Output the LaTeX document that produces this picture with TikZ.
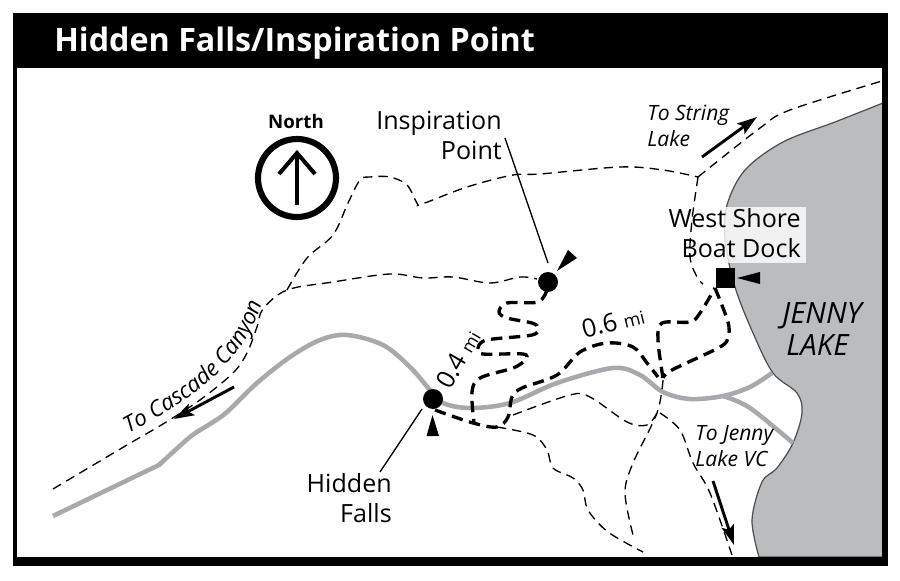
\documentclass[tikz,border=0pt]{standalone}
\usepackage{fontspec}
\setmainfont{Open Sans}
\usetikzlibrary{arrows.meta,decorations.text}
\definecolor{lakegray}{HTML}{BBBCBE}
\definecolor{roadgray}{HTML}{A7A9AC}
\tikzset{
 trail/.style={line width=1pt,dash pattern=on 7pt off 4.5pt,smooth,tension=0.55},
 boldtrail/.style={line width=2.5pt,dash pattern=on 8.5pt off 5pt,line cap=butt},
 road/.style={draw=roadgray,line width=3.4pt,line join=round},
 leader/.style={line width=1pt},
 pointer/.style={fill=black,draw=none},
 dirarrow/.style={line width=2.2pt,-{Stealth[length=15pt,width=9.5pt,inset=3pt]}},
 lbl/.style={font=\fontsize{18.8}{22.5}\selectfont,align=right,inner sep=0pt},
 ital/.style={font=\fontsize{15.8}{19.5}\selectfont\itshape,inner sep=0pt},
 lakelbl/.style={font=\fontsize{22}{24}\selectfont\itshape,inner sep=0pt},
}
\begin{document}
\begin{tikzpicture}[x=0.75pt,y=-0.75pt]
\useasboundingbox (0,0) rectangle (900,581);
\fill[white] (0,0) rectangle (900,581);
% lake
\draw[fill=lakegray,draw=black!70,line width=0.9pt] plot[smooth,tension=0.55] coordinates {(883,103) (835,122) (783,142) (745,170) (727,205) (725,240) (735,287) (753,333) (773,373) (797,393) (802,413) (793,443) (777,468) (762,482) (752,520) (759,557)} -- (883,557) -- cycle;
% roads
\draw[road] (53,516) -- (159,465) -- plot[smooth,tension=0.55] coordinates {(159,465) (190,437) (210,424) (227,412) (257,383) (290,357) (320,340) (347,335) (383,345) (410,367) (430,390) (443,403) (470,408) (510,403) (557,383) (613,368) (640,375) (663,392) (690,399) (723,396) (750,387) (772,373)};
\draw[road] plot[smooth,tension=0.55] coordinates {(723,396) (750,408) (793,443)};
% label panel
\node[fill=white,fill opacity=0.8,text opacity=1,minimum width=108pt,minimum height=42pt,inner sep=0pt,anchor=north west] (dockpanel) at (662,207) {};
% thin trails
\draw[trail] plot coordinates {(53,489) (127,445) (163,424) (200,400) (233,373) (247,353) (257,327) (263,309) (287,290) (333,282) (390,274) (423,278) (453,277) (490,283) (520,277) (537,279)};
\draw[trail] plot coordinates {(287,290) (307,258) (333,235) (348,203) (360,180) (370,177) (390,177) (407,185) (417,203) (422,204) (467,187) (513,175) (540,174) (620,167) (663,170) (698,177)};
\draw[trail] plot coordinates {(698,177) (760,128) (790,110) (882,81)};
\draw[trail] plot coordinates {(698,177) (692,220) (690,257) (697,277) (703,284)};
\draw[trail] plot coordinates {(513,415) (570,395) (590,397) (627,422) (647,425) (657,413)};
\draw[trail] plot coordinates {(663,380) (657,413) (633,463) (625,493) (633,535)};
\draw[trail] plot coordinates {(497,427) (533,435) (547,450) (553,468) (573,478) (583,490) (588,510) (608,532) (643,552)};
\draw[trail] plot coordinates {(660,413) (680,430) (693,463) (710,493) (732,555)};
% bold trails
\draw[boldtrail] plot[smooth,tension=0.55] coordinates {(547,290) (538,302) (507,303) (499,312) (507,318) (532,323) (538,328) (532,335) (487,340) (478,348) (483,354) (523,354) (525,360) (513,368) (480,378) (472,392) (474,423)};
\draw[boldtrail] plot[smooth,tension=0.55] coordinates {(435,410) (473,423) (497,427) (508,417) (512,397) (522,388) (557,375) (580,352) (607,343) (633,347) (647,363) (658,377)};
\draw[boldtrail] plot[smooth,tension=0.55] coordinates {(663,378) (658,340) (662,323) (690,322) (700,313) (715,288)};
\draw[boldtrail] plot[smooth,tension=0.55] coordinates {(715,288) (728,322) (728,337) (720,347) (672,370) (663,378)};
% markers
\node[circle,fill=black,minimum size=15pt,inner sep=0pt] (insp) at (548,282) {};
\node[circle,fill=black,minimum size=15pt,inner sep=0pt] (falls) at (433,399) {};
\node[rectangle,fill=black,minimum size=14.5pt,inner sep=0pt] (dock) at (725.5,278) {};
\fill[pointer] (737,278) -- (760,272) -- (760,284) -- cycle;
\fill[pointer] (432.5,415) -- (426.5,436) -- (439,436) -- cycle;
\fill[pointer] (557,271) -- (568,250) -- (577,258) -- cycle;
% labels
\node[lbl,anchor=north east] (insplbl) at (502,111) {Inspiration\\Point};
\node[lbl,anchor=north east] (fallslbl) at (392,473) {Hidden\\Falls};
\node[lbl,anchor=north east] (docklbl) at (801,208) {West Shore\\Boat Dock};
\coordinate (insptop) at (505,138);
\coordinate (inspend) at (548,263);
\coordinate (fallstop) at (422,409);
\coordinate (fallsend) at (380,472);
\draw[leader] (insptop) -- (inspend);
\draw[leader] (fallstop) -- (fallsend);
% north
\node[circle,draw=black,line width=4.6pt,minimum size=58.5pt,inner sep=0pt] (northc) at (297,178) {};
\node[font=\fontsize{14}{16}\selectfont\bfseries,inner sep=0pt] (northlbl) at (296,122) {North};
\coordinate (narrowbase) at (297,205);
\coordinate (narrowtip) at (297,154);
\draw[line width=3pt] (narrowbase) -- (narrowtip);
\draw[line width=3pt,miter limit=10] (279,174) -- (297,153) -- (315,174);
% direction arrows
\coordinate (ca) at (234,387); \coordinate (cb) at (174,419);
\coordinate (sa) at (702,157); \coordinate (sb) at (757,117);
\coordinate (ja) at (713,481); \coordinate (jb) at (734,545);
\draw[dirarrow] (ca) -- (cb);
\draw[dirarrow] (sa) -- (sb);
\draw[dirarrow] (ja) -- (jb);
% italic labels
\path[decorate,decoration={text along path,text align=center,text={|\fontsize{16.8}{19}\selectfont\itshape|To Cascade Canyon}}] (124,436) .. controls (175,408) and (245,372) .. (263,298);
\node[ital,anchor=north west,align=left] (string) at (647,105) {To String\\Lake};
\node[ital,anchor=north west,align=left] (jennyvc) at (695,425) {To Jenny\\Lake VC};
\node[lakelbl,align=left] (jenny) at (822,329) {JENNY\\\hspace*{3pt}LAKE};
% distances
\node[inner sep=0pt,rotate=60] (d04) at (458,359) {\fontsize{19}{22}\selectfont 0.4 \fontsize{13}{16}\selectfont mi};
\node[inner sep=0pt,rotate=14] (d06) at (613,322) {\fontsize{19}{22}\selectfont 0.6 \fontsize{13.5}{16}\selectfont mi};
% frame
\fill[black] (13,13) rectangle (888,68);
\fill[black] (13,13) rectangle (17,566);
\fill[black] (882,13) rectangle (888,566);
\fill[black] (13,557) rectangle (888,566);
\node[anchor=base west,text=white,inner sep=0pt,font=\fontsize{24.2}{28}\selectfont\bfseries] (title) at (54,52) {Hidden Falls/Inspiration Point};
\end{tikzpicture}
\end{document}
